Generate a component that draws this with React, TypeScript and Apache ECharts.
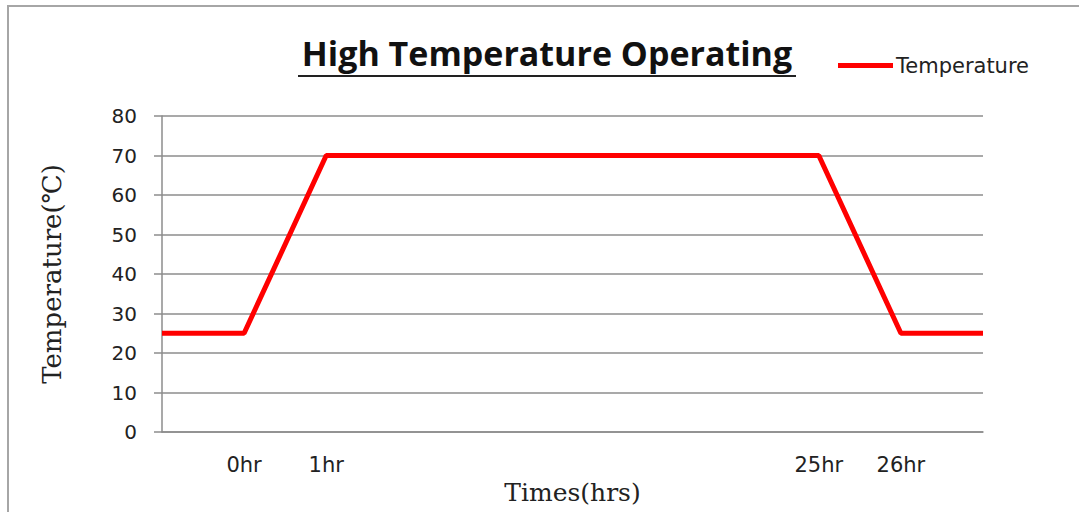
import React, { useEffect, useRef } from "react";
import * as echarts from "echarts";

const categories = ["", "0hr", "1hr", "", "", "", "", "", "25hr", "26hr", ""];
const temperature: (number | null)[] = [25, 25, 70, null, null, null, null, null, 70, 25, 25];
const yTicks = { min: 0, max: 80, interval: 10 };
const titleText = "High Temperature Operating";
const seriesName = "Temperature";
const yName = "Temperature(℃)";
const xName = "Times(hrs)";

export default function App() {
  const ref = useRef<HTMLDivElement>(null);
  useEffect(() => {
    if (!ref.current) return;
    const chart = echarts.init(ref.current, undefined, { renderer: "svg" });
    chart.setOption({
      animation: false,
      backgroundColor: "#ffffff",
      grid: { left: 162, right: 96, top: 116, bottom: 80 },
      legend: {
        data: [{ name: seriesName, icon: "rect" }],
        left: 838,
        top: 55,
        padding: 0,
        itemWidth: 55,
        itemHeight: 5,
        itemGap: 0,
        textStyle: {
          fontFamily: "DejaVu Sans",
          fontSize: 21,
          color: "#222",
          padding: [0, 0, 0, -2],
        },
      },
      xAxis: {
        type: "category",
        data: categories,
        boundaryGap: false,
        name: xName,
        nameLocation: "middle",
        nameGap: 32,
        nameTextStyle: { fontFamily: "DejaVu Serif", fontSize: 25, color: "#222" },
        axisLine: { show: true, lineStyle: { color: "#8c8c8c", width: 1.5 } },
        axisTick: { show: false },
        axisLabel: {
          interval: 0,
          margin: 22,
          fontFamily: "DejaVu Sans",
          fontSize: 21,
          color: "#222",
        },
        splitLine: { show: false },
      },
      yAxis: {
        type: "value",
        min: yTicks.min,
        max: yTicks.max,
        interval: yTicks.interval,
        name: yName,
        nameLocation: "middle",
        nameGap: 97,
        nameTextStyle: { fontFamily: "DejaVu Serif", fontSize: 26, color: "#222" },
        axisLine: { show: true, lineStyle: { color: "#8c8c8c", width: 1.5 } },
        axisTick: { show: true, length: 8, lineStyle: { color: "#8c8c8c", width: 1.5 } },
        axisLabel: {
          margin: 25,
          fontFamily: "DejaVu Sans",
          fontSize: 20,
          color: "#222",
        },
        splitLine: { show: true, lineStyle: { color: "#8c8c8c", width: 1.5 } },
      },
      series: [
        {
          name: seriesName,
          type: "line",
          data: temperature,
          connectNulls: true,
          symbol: "none",
          lineStyle: { color: "#ff0000", width: 5 },
          itemStyle: { color: "#ff0000" },
        },
      ],
      graphic: [
        {
          type: "rect",
          shape: { x: 8, y: 6, width: 1200, height: 700 },
          style: { fill: "none", stroke: "#a6a6a6", lineWidth: 2 },
          silent: true,
        },
        {
          type: "text",
          x: 547,
          y: 53,
          style: {
            text: titleText,
            fontFamily: "Open Sans",
            fontWeight: "bold",
            fontSize: 34,
            fill: "#111",
            align: "center",
            verticalAlign: "middle",
          },
        },
        {
          type: "line",
          shape: { x1: 298, y1: 76, x2: 796, y2: 76 },
          style: { stroke: "#222", lineWidth: 2 },
        },
      ],
    });
    return () => chart.dispose();
  }, []);
  return (
    <div
      ref={ref}
      style={{ position: "fixed", left: 0, top: 0, width: 1079, height: 512 }}
    />
  );
}
